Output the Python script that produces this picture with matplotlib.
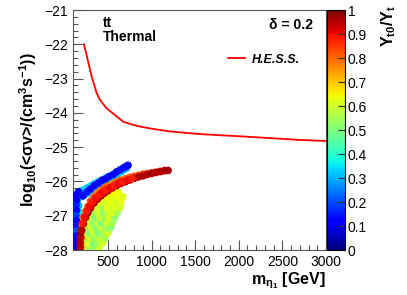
import matplotlib
matplotlib.use('Agg')
import matplotlib.pyplot as plt
import numpy as np
from matplotlib.ticker import MultipleLocator

plt.rcParams['font.family'] = ['Liberation Sans', 'DejaVu Sans']
plt.rcParams['mathtext.fontset'] = 'custom'
plt.rcParams['mathtext.rm'] = 'Liberation Sans:bold'
plt.rcParams['mathtext.it'] = 'Liberation Sans:bold'
plt.rcParams['mathtext.bf'] = 'Liberation Sans:bold'

# H.E.S.S. limit curve
hess_mass = [226, 314, 372, 409, 486, 581, 677, 791, 868, 1000, 1200, 1560, 2130, 2700, 3000]
hess_sv = [-22.0, -22.94, -23.43, -23.62, -23.87, -24.06, -24.26, -24.35, -24.40,
           -24.46, -24.54, -24.62, -24.70, -24.79, -24.82]

# upper band (cyan body)
cyan_mass = [150, 190, 230, 270, 310, 350, 390, 430, 470, 510, 550, 590, 630, 670, 710,
             150, 190, 230, 270, 310, 350, 390, 430, 470, 510, 550, 590, 630, 670,
             170, 210, 250, 290, 330, 370, 410, 450, 490, 530, 570, 610, 650, 690,
             165, 160, 168, 162, 166, 158]
cyan_sv = [-26.34, -26.28, -26.23, -26.18, -26.12, -26.06, -26.01, -25.96, -25.91, -25.86,
           -25.81, -25.76, -25.71, -25.66, -25.62,
           -26.53, -26.45, -26.39, -26.34, -26.28, -26.22, -26.15, -26.08, -26.01, -25.94,
           -25.87, -25.8, -25.72, -25.65,
           -26.44, -26.36, -26.3, -26.25, -26.2, -26.14, -26.08, -26.02, -25.96, -25.9,
           -25.84, -25.78, -25.72, -25.64,
           -26.7, -26.85, -27.0, -27.15, -27.3, -27.45]
cyan_c = [0.33, 0.32, 0.34, 0.32, 0.33, 0.31, 0.33, 0.32, 0.34, 0.32, 0.33, 0.31, 0.33, 0.32, 0.3,
          0.3, 0.31, 0.29, 0.3, 0.31, 0.29, 0.3, 0.31, 0.29, 0.3, 0.31, 0.29, 0.3, 0.3,
          0.32, 0.31, 0.33, 0.32, 0.31, 0.33, 0.32, 0.31, 0.33, 0.32, 0.31, 0.33, 0.32, 0.31,
          0.3, 0.33, 0.36, 0.4, 0.43, 0.46]

# upper band (dark blue dots) and left column
blue_mass = [165, 215, 260, 300, 345, 390, 430, 470, 510, 560, 600, 640, 680, 710, 730,
             135, 140, 135, 140, 135, 140, 135, 140, 135, 140, 135]
blue_sv = [-26.3, -26.42, -26.3, -26.22, -26.12, -26.05, -25.97, -25.93, -25.86, -25.8,
           -25.72, -25.66, -25.6, -25.56, -25.53,
           -26.4, -26.55, -26.7, -26.85, -27.0, -27.15, -27.3, -27.45, -27.6, -27.75, -27.9]
blue_c = [0.12, 0.1, 0.15, 0.12, 0.1, 0.14, 0.12, 0.1, 0.13, 0.12, 0.1, 0.14, 0.12, 0.1, 0.11,
          0.12, 0.1, 0.15, 0.12, 0.18, 0.1, 0.14, 0.2, 0.12, 0.1, 0.08]

# yellow-green cloud below the lower band
cloud_mass = [210, 250, 300, 350, 400,
              205, 240, 290, 330, 380, 440,
              215, 260, 300, 350, 400, 470,
              210, 250, 290, 340, 390, 440, 500,
              225, 270, 320, 370, 420, 480, 530,
              240, 280, 330, 380, 430, 490, 550,
              265, 310, 360, 410, 460, 520, 580,
              300, 345, 395, 445, 500, 560, 610,
              340, 390, 440, 490, 545, 600, 640,
              400, 450, 500, 550, 600, 650,
              480, 530, 580, 630, 670,
              560, 620]
cloud_sv = [-27.93, -27.93, -27.93, -27.93, -27.93,
            -27.8, -27.8, -27.8, -27.8, -27.8, -27.8,
            -27.65, -27.65, -27.65, -27.65, -27.65, -27.65,
            -27.5, -27.5, -27.5, -27.5, -27.5, -27.5, -27.5,
            -27.35, -27.35, -27.35, -27.35, -27.35, -27.35, -27.35,
            -27.2, -27.2, -27.2, -27.2, -27.2, -27.2, -27.2,
            -27.05, -27.05, -27.05, -27.05, -27.05, -27.05, -27.05,
            -26.9, -26.9, -26.9, -26.9, -26.9, -26.9, -26.9,
            -26.75, -26.75, -26.75, -26.75, -26.75, -26.75, -26.75,
            -26.6, -26.6, -26.6, -26.6, -26.6, -26.6,
            -26.45, -26.45, -26.45, -26.45, -26.45,
            -26.32, -26.32]
cloud_c = [0.62, 0.6, 0.55, 0.52, 0.6,
           0.65, 0.58, 0.62, 0.5, 0.55, 0.6,
           0.62, 0.55, 0.6, 0.52, 0.58, 0.55,
           0.66, 0.6, 0.52, 0.6, 0.5, 0.55, 0.6,
           0.64, 0.55, 0.6, 0.5, 0.58, 0.55, 0.52,
           0.62, 0.6, 0.52, 0.58, 0.5, 0.6, 0.55,
           0.63, 0.58, 0.5, 0.6, 0.55, 0.62, 0.52,
           0.62, 0.55, 0.6, 0.52, 0.6, 0.62, 0.55,
           0.64, 0.6, 0.55, 0.62, 0.6, 0.63, 0.6,
           0.63, 0.6, 0.62, 0.64, 0.6, 0.63,
           0.65, 0.63, 0.62, 0.64, 0.62,
           0.65, 0.64]

# lower band: orange outer edge
orange_mass = [195, 200, 205, 220, 245, 270, 300, 340, 380, 420, 460, 500, 550, 600, 650,
               700, 750, 800, 850, 900, 950, 1000, 1050, 1100, 1150]
orange_sv = [-27.85, -27.65, -27.25, -27.05, -26.87, -26.73, -26.57, -26.44, -26.34, -26.26,
             -26.19, -26.13, -26.07, -26.01, -25.96, -25.92, -25.88, -25.85, -25.82, -25.79,
             -25.77, -25.75, -25.73, -25.71, -25.69]
orange_c = [0.72, 0.74, 0.78, 0.8, 0.78, 0.8, 0.82, 0.8, 0.78, 0.8, 0.82, 0.8, 0.78, 0.8, 0.82,
            0.8, 0.82, 0.83, 0.82, 0.84, 0.85, 0.86, 0.86, 0.87, 0.88]

# lower band: dark red inner edge and middle
red_mass = [185, 183, 187, 190, 200, 220, 245, 270, 300, 340, 380, 420, 460, 500, 550, 600,
            650, 700, 750, 800, 850, 900, 950, 1000, 1050, 1100, 1150, 1190,
            210, 232, 258, 285, 320, 360, 400, 440, 480, 525, 575, 625, 675, 725, 775]
red_sv = [-27.93, -27.78, -27.63, -27.48, -27.42, -27.23, -27.05, -26.91, -26.78, -26.63,
          -26.52, -26.42, -26.34, -26.27, -26.19, -26.12, -26.06, -26.01, -25.96, -25.91,
          -25.87, -25.84, -25.8, -25.77, -25.74, -25.71, -25.68, -25.68,
          -27.22, -27.03, -26.86, -26.73, -26.6, -26.48, -26.39, -26.31, -26.24, -26.18,
          -26.11, -26.05, -26.0, -25.96, -25.92]
red_c = [0.95, 0.96, 0.95, 0.97, 0.95, 0.96, 0.95, 0.97, 0.95, 0.96, 0.95, 0.97, 0.95, 0.96,
         0.95, 0.97, 0.95, 0.96, 0.95, 0.97, 0.95, 0.96, 0.95, 0.97, 0.95, 0.96, 0.95, 0.97,
         0.88, 0.9, 0.88, 0.9, 0.88, 0.9, 0.88, 0.9, 0.88, 0.9, 0.88, 0.9, 0.88, 0.9, 0.88]

fig = plt.figure(figsize=(4.07, 2.95), dpi=100)
ax = fig.add_axes([0.1794, 0.1525, 0.6216, 0.8136])
cax = fig.add_axes([0.8034, 0.1525, 0.0442, 0.8136])

cmap = plt.get_cmap('jet')
for m, s, c in [(cyan_mass, cyan_sv, cyan_c), (blue_mass, blue_sv, blue_c),
                (cloud_mass, cloud_sv, cloud_c), (orange_mass, orange_sv, orange_c),
                (red_mass, red_sv, red_c)]:
    sc = ax.scatter(m, s, c=c, cmap=cmap, vmin=0, vmax=1, s=30, linewidths=0, zorder=3)

ax.plot(hess_mass, hess_sv, color='red', lw=1.3, label='H.E.S.S.', zorder=4)

ax.set_xlim(100, 3000)
ax.set_ylim(-28, -21)
ax.xaxis.set_major_locator(MultipleLocator(500))
ax.xaxis.set_minor_locator(MultipleLocator(100))
ax.yaxis.set_major_locator(MultipleLocator(1))
ax.yaxis.set_minor_locator(MultipleLocator(0.2))
ax.tick_params(which='both', direction='in', top=False, right=False, labelsize=10)
ax.tick_params(which='major', length=7, width=0.8, color='#555555')
ax.tick_params(which='minor', length=3.5, width=0.8, color='#555555')
ax.set_xticks([500, 1000, 1500, 2000, 2500, 3000])
for sp in ax.spines.values():
    sp.set_color('#555555')
    sp.set_linewidth(0.8)

ax.set_ylabel(r'log$_{10}$(<σv>/(cm$^{3}$s$^{-1}$))', fontsize=11.5, fontweight='bold', labelpad=4)
ax.set_xlabel(r'm$_{\eta_{1}}$ [GeV]', fontsize=11.5, fontweight='bold', loc='right', labelpad=1)

ax.text(0.12, 0.975, 'tt', transform=ax.transAxes, fontsize=10, fontweight='bold', va='top')
ax.text(0.12, 0.915, 'Thermal', transform=ax.transAxes, fontsize=10, fontweight='bold', va='top')
ax.text(0.95, 0.965, 'δ = 0.2', transform=ax.transAxes, fontsize=10, fontweight='bold',
        va='top', ha='right')

ax.legend(loc='upper left', bbox_to_anchor=(0.57, 0.865), frameon=False, handlelength=1.3,
          handletextpad=0.6, prop={'weight': 'bold', 'style': 'italic', 'size': 9})

cb = fig.colorbar(sc, cax=cax)
cb.set_ticks(np.arange(0, 1.01, 0.1))
cb.set_ticklabels(['0', '0.1', '0.2', '0.3', '0.4', '0.5', '0.6', '0.7', '0.8', '0.9', '1'])
cax.tick_params(direction='in', length=5, width=0.8, labelsize=10, pad=2, color='#333333')
cb.outline.set_linewidth(0.8)
fig.text(0.955, 0.985, r'Y$_{t0}$/Y$_{t}$', rotation=90, fontsize=11.5, fontweight='bold',
         ha='center', va='top')

fig.savefig('out.png', dpi=100)
